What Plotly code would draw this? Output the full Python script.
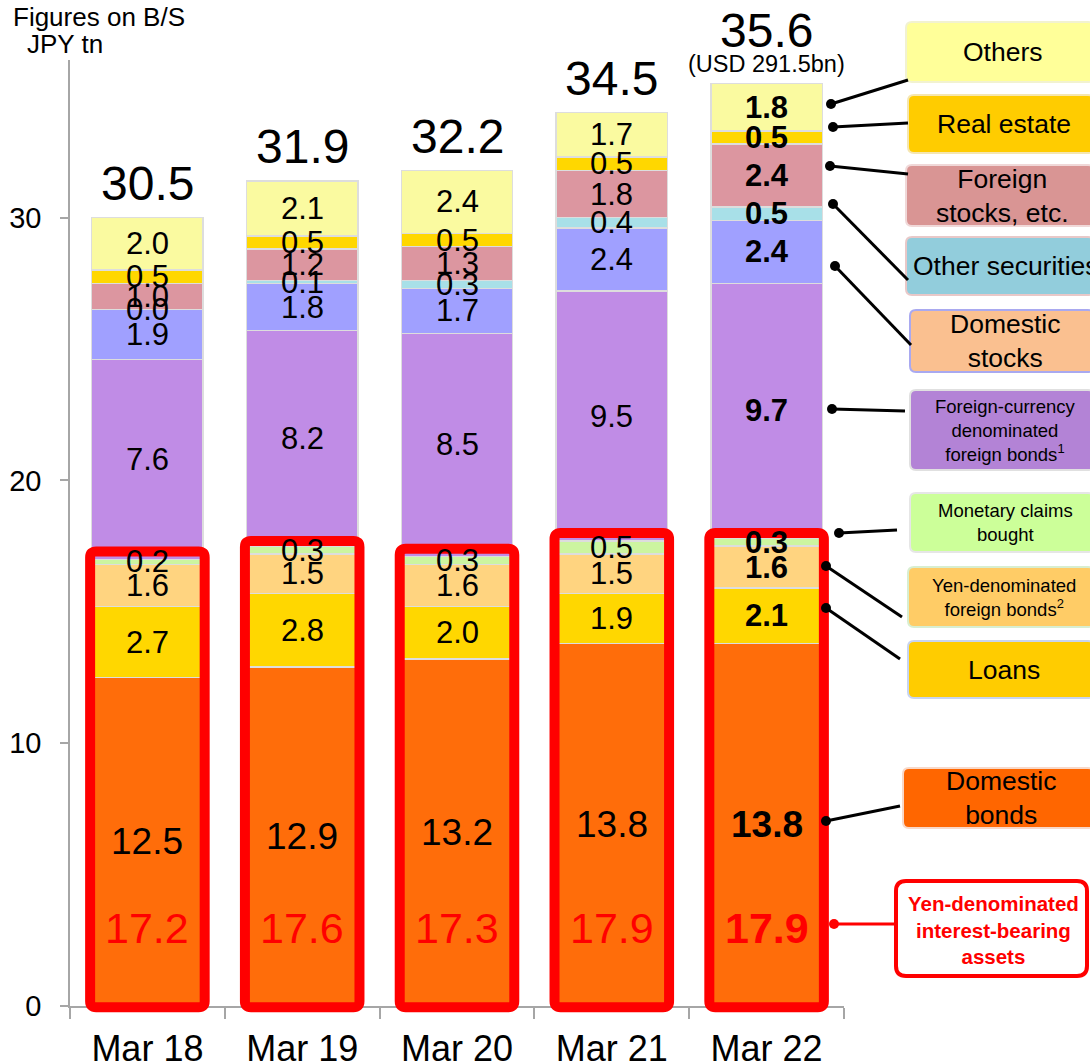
import plotly.graph_objects as go

# ---------------- data ----------------
categories = ["Mar 18", "Mar 19", "Mar 20", "Mar 21", "Mar 22"]

domestic_bonds = [12.5, 12.9, 13.2, 13.8, 13.8]
loans = [2.7, 2.8, 2.0, 1.9, 2.1]
yen_foreign_bonds = [1.6, 1.5, 1.6, 1.5, 1.6]
monetary_claims = [0.2, 0.3, 0.3, 0.5, 0.3]
fx_foreign_bonds = [7.6, 8.2, 8.5, 9.5, 9.7]
domestic_stocks = [1.9, 1.8, 1.7, 2.4, 2.4]
other_securities = [0.0, 0.1, 0.3, 0.4, 0.5]
foreign_stocks = [1.0, 1.2, 1.3, 1.8, 2.4]
real_estate = [0.5, 0.5, 0.5, 0.5, 0.5]
others = [2.0, 2.1, 2.4, 1.7, 1.8]

totals = [30.5, 31.9, 32.2, 34.5, 35.6]
usd_note = "(USD 291.5bn)"
yen_interest_bearing = [17.2, 17.6, 17.3, 17.9, 17.9]

series_names = ["Domestic bonds", "Loans", "Yen-denominated foreign bonds",
                "Monetary claims bought", "Foreign-currency denominated foreign bonds",
                "Domestic stocks", "Other securities", "Foreign stocks, etc.",
                "Real estate", "Others"]
series_values = [domestic_bonds, loans, yen_foreign_bonds, monetary_claims,
                 fx_foreign_bonds, domestic_stocks, other_securities,
                 foreign_stocks, real_estate, others]

# ---------------- style ----------------
colors = ["#FF6D0A", "#FFD700", "#FFD480", "#CCF5A0", "#C08CE6",
          "#A0A0FF", "#A8E0E8", "#DC96A0", "#FFD700", "#FAFAA0"]
FONT = "Arial, Liberation Sans, sans-serif"
W, H = 1090, 1064
ML, MR, MT, MB = 70, 246, 60, 58
PW, PH = W - ML - MR, H - MT - MB
XR = (-0.5, 4.5)
YR = (0, 36)


def px(xpix):
    return (xpix - ML) / PW


def py(ypix):
    return (H - MB - ypix) / PH


def dx(x):
    return (x - XR[0]) / (XR[1] - XR[0])


def dy(y):
    return (y - YR[0]) / (YR[1] - YR[0])


def rounded_path(x0, y0, x1, y1, rpx):
    rx, ry = rpx / PW, rpx / PH
    return (f"M{x0+rx},{y0} L{x1-rx},{y0} Q{x1},{y0} {x1},{y0+ry} "
            f"L{x1},{y1-ry} Q{x1},{y1} {x1-rx},{y1} L{x0+rx},{y1} "
            f"Q{x0},{y1} {x0},{y1-ry} L{x0},{y0+ry} Q{x0},{y0} {x0+rx},{y0} Z")


xs = list(range(len(categories)))
fig = go.Figure()
for name, vals, col in zip(series_names, series_values, colors):
    fig.add_trace(go.Bar(x=xs, y=vals, name=name, marker_color=col,
                         marker_line=dict(color="#DDDDDD", width=1.5)))

annotations = []
shapes = []

# segment value labels
cum = [0.0] * len(categories)
for si, vals in enumerate(series_values):
    for i, v in enumerate(vals):
        mid = cum[i] + v / 2
        bold = i == len(categories) - 1
        size = 37 if si == 0 else 31
        txt = f"{v:.1f}"
        if bold:
            txt = f"<b>{txt}</b>"
        annotations.append(dict(x=i, y=mid, xref="x", yref="y", text=txt,
                                showarrow=False, yanchor="middle",
                                font=dict(family=FONT, size=size, color="black")))
        cum[i] += v
stack_tops = cum

# totals above bars
for i, t in enumerate(totals):
    last = i == len(categories) - 1
    annotations.append(dict(x=i, y=stack_tops[i], xref="x", yref="y",
                            text=f"{t:.1f}", showarrow=False, yanchor="middle",
                            yshift=53 if last else 34,
                            font=dict(family=FONT, size=48, color="black")))
annotations.append(dict(x=len(categories) - 1, y=stack_tops[-1], xref="x", yref="y",
                        text=usd_note, showarrow=False, yanchor="middle", yshift=20,
                        font=dict(family=FONT, size=23.5, color="black")))

# red yen-denominated interest bearing labels + boxes
for i, v in enumerate(yen_interest_bearing):
    last = i == len(categories) - 1
    annotations.append(dict(x=i, y=2.95, xref="x", yref="y",
                            text=f"<b>{v:.1f}</b>" if last else f"{v:.1f}",
                            showarrow=False, yanchor="middle",
                            font=dict(family=FONT, size=43, color="#FF0000")))
    shapes.append(dict(type="path", xref="paper", yref="paper",
                       path=rounded_path(dx(i - 0.37), dy(-0.05), dx(i + 0.37), dy(v + 0.1), 6),
                       line=dict(color="#FF0000", width=10), fillcolor="rgba(0,0,0,0)",
                       layer="above"))

# legend boxes on the right (pixel positions)
boxes = [
    # x0, y0, x1, y1, fill, border, text, size, text_x, anchor
    (906, 22, 1094, 82, "#FFFF99", "#F2F2D0", "Others", 26.5, None, "center"),
    (908, 95, 1094, 153, "#FFCC00", "#F5E6B0", "Real estate", 26.5, None, "center"),
    (906, 165, 1094, 226, "#D99594", "#F0D8D8", "Foreign<br>stocks, etc.", 26.5, None, "center"),
    (906, 237, 1094, 295, "#92CDDC", "#E8C8C8", "Other securities", 26.5, 911, "left"),
    (910, 310, 1094, 372, "#FAC090", "#A9A9F0", "Domestic<br>stocks", 26.5, None, "center"),
    (910, 390, 1094, 470, "#B383D6", "#E0E0E0",
     "Foreign-currency<br>denominated<br>foreign bonds<sup>1</sup>", 18.5, None, "center"),
    (910, 493, 1094, 552, "#CCFF99", "#E6E6E6", "Monetary claims<br>bought", 18.5, None, "center"),
    (908, 567, 1094, 627, "#FFCC66", "#D8EED0", "Yen-denominated<br>foreign bonds<sup>2</sup>", 18.5, None, "center"),
    (908, 641, 1094, 698, "#FFCC00", "#C8D4F0", "Loans", 26.5, None, "center"),
    (903, 768, 1094, 828, "#FF6600", "#F8D8C8", "Domestic<br>bonds", 26.5, None, "center"),
]
for x0, y0, x1, y1, fill, border, text, size, tx, anchor in boxes:
    shapes.append(dict(type="path", xref="paper", yref="paper",
                       path=rounded_path(px(x0), py(y1), px(x1), py(y0), 6),
                       fillcolor=fill, line=dict(color=border, width=2), layer="above"))
    xpos = tx if tx is not None else (x0 + min(x1, W) + 10) / 2
    annotations.append(dict(x=px(xpos), y=py((y0 + y1) / 2),
                            xref="paper", yref="paper", text=text, showarrow=False,
                            xanchor=anchor, yanchor="middle",
                            font=dict(family=FONT, size=size, color="black")))

# red-bordered box
shapes.append(dict(type="path", xref="paper", yref="paper",
                   path=rounded_path(px(896), py(976), px(1087), py(881), 10),
                   fillcolor="white", line=dict(color="#FF0000", width=4), layer="above"))
annotations.append(dict(x=px(993), y=py(930), xref="paper", yref="paper",
                        text="<b>Yen-denominated<br>interest-bearing<br>assets</b>",
                        showarrow=False, xanchor="center", yanchor="middle",
                        font=dict(family=FONT, size=20.5, color="#FF0000")))

# leader lines with dots
leaders = [
    (831, 104, 908, 80, "black"),
    (833, 127, 908, 123, "black"),
    (830, 166, 908, 174, "black"),
    (833, 204, 908, 280, "black"),
    (835, 266, 911, 345, "black"),
    (832, 409, 905, 411, "black"),
    (839, 533, 897, 530, "black"),
    (826, 566, 902, 617, "black"),
    (826, 608, 900, 659, "black"),
    (826, 821, 900, 806, "black"),
    (834, 924, 896, 924, "#FF0000"),
]
for x0, y0, x1, y1, c in leaders:
    shapes.append(dict(type="line", xref="paper", yref="paper",
                       x0=px(x0), y0=py(y0), x1=px(x1), y1=py(y1),
                       line=dict(color=c, width=3), layer="above"))
    r = 5
    shapes.append(dict(type="circle", xref="paper", yref="paper",
                       x0=px(x0 - r), x1=px(x0 + r), y0=py(y0 + r), y1=py(y0 - r),
                       fillcolor=c, line=dict(color=c, width=0), layer="above"))

# axis titles at top-left
annotations.append(dict(x=px(11), y=py(17), xref="paper", yref="paper",
                        text="Figures on B/S", showarrow=False, xanchor="left",
                        yanchor="middle", font=dict(family=FONT, size=26, color="black")))
annotations.append(dict(x=px(25), y=py(44), xref="paper", yref="paper",
                        text="JPY tn", showarrow=False, xanchor="left",
                        yanchor="middle", font=dict(family=FONT, size=26, color="black")))

fig.update_layout(
    width=W, height=H, autosize=False,
    margin=dict(l=ML, r=MR, t=MT, b=MB, pad=0),
    barmode="stack", bargap=0.28,
    showlegend=False,
    plot_bgcolor="white", paper_bgcolor="white",
    font=dict(family=FONT, color="black"),
    annotations=annotations, shapes=shapes,
    xaxis=dict(type="linear", range=list(XR), tickmode="array", tickvals=xs,
               ticktext=categories, ticks="", showgrid=False, zeroline=False,
               showline=True, linecolor="#A6A6A6", linewidth=1.5, automargin=False,
               tickfont=dict(family=FONT, size=36, color="black"),
               ticklabelstandoff=10,
               minor=dict(tickmode="array", tickvals=[x - 0.5 for x in range(len(categories) + 1)],
                          ticks="outside", ticklen=11, tickcolor="#A6A6A6", tickwidth=1.5,
                          showgrid=False)),
    yaxis=dict(range=list(YR), tickmode="array", tickvals=[0, 10, 20, 30],
               ticks="outside", ticklen=8, tickcolor="#A6A6A6", tickwidth=1.5,
               showgrid=False, zeroline=False, showline=True, linecolor="#A6A6A6",
               linewidth=1.5, automargin=False,
               tickfont=dict(family=FONT, size=29, color="black"),
               ticklabelstandoff=13),
)

fig.write_html("out.html")
